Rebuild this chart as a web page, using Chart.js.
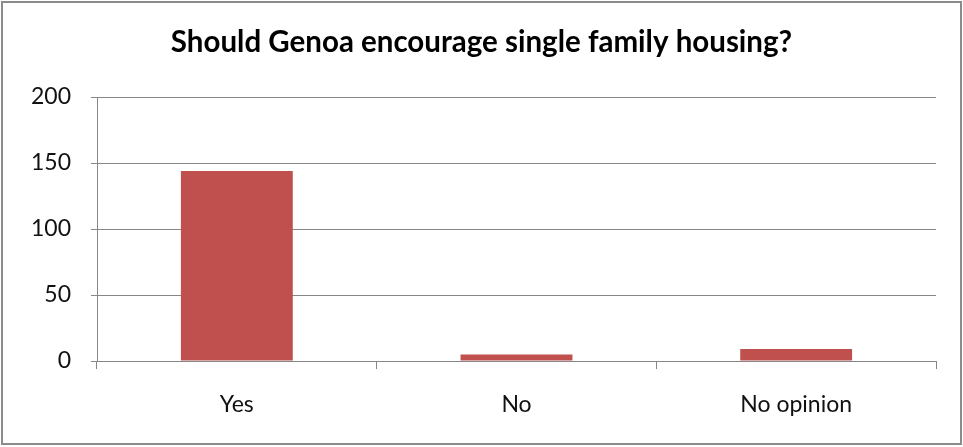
<!DOCTYPE html>
<html>
<head>
<meta charset="utf-8">
<script src="https://cdn.jsdelivr.net/npm/chart.js@4"></script>
<style>
  html, body { margin: 0; padding: 0; background: #fff; }
  .chart-wrapper {
    position: relative;
    width: 963px;
    height: 447px;
  }
</style>
</head>
<body>
<div class="chart-wrapper">
  <canvas id="chart"></canvas>
</div>
<script>
// Survey answers
const categories = ["Yes", "No", "No opinion"]
const responses = [144, 5, 9]
const yTicks = [0, 50, 100, 150, 200]

const titleText = "Should Genoa encourage single family housing?"
const barColor = "#C0504D"
const lineColor = "#868686"
const textFont = "Lato"

// Grey frame round the whole picture
const framePlugin = {
  id: "frame",
  afterDraw: (chart) => {
    const ctx = chart.ctx
    ctx.save()
    ctx.strokeStyle = "#8c8c8c"
    ctx.lineWidth = 2
    ctx.strokeRect(2, 2, chart.width - 4, chart.height - 5)
    ctx.restore()
  },
}

const ctx = document.getElementById("chart").getContext("2d")

new Chart(ctx, {
  type: "bar",
  data: {
    labels: categories,
    datasets: [
      {
        label: "Responses",
        data: responses,
        backgroundColor: barColor,
        borderWidth: 0,
        barPercentage: 0.4,
        categoryPercentage: 1,
      },
    ],
  },
  options: {
    responsive: true,
    maintainAspectRatio: false,
    animation: false,
    layout: {
      padding: { top: 0, right: 27, bottom: 0, left: 27 },
    },
    plugins: {
      legend: { display: false },
      tooltip: { enabled: false },
      title: {
        display: true,
        text: titleText,
        color: "#000",
        font: { family: textFont, size: 29.5, weight: "bold" },
        padding: { top: 25, bottom: 36.6 },
      },
    },
    scales: {
      x: {
        grid: {
          offset: true,
          drawOnChartArea: false,
          drawTicks: true,
          tickLength: 8,
          color: lineColor,
        },
        border: { color: lineColor, width: 1 },
        ticks: {
          color: "#111",
          font: { family: textFont, size: 23 },
          padding: 22,
        },
        afterFit: (scale) => {
          scale.height = 86
        },
      },
      y: {
        min: 0,
        max: 200,
        afterBuildTicks: (scale) => {
          scale.ticks = yTicks.map((v) => ({ value: v }))
        },
        grid: {
          color: lineColor,
          tickLength: 6,
        },
        border: { color: lineColor, width: 1 },
        ticks: {
          color: "#111",
          font: { family: textFont, size: 23 },
          padding: 20,
        },
        afterFit: (scale) => {
          scale.width = 70
        },
      },
    },
  },
  plugins: [framePlugin],
})
</script>
</body>
</html>
